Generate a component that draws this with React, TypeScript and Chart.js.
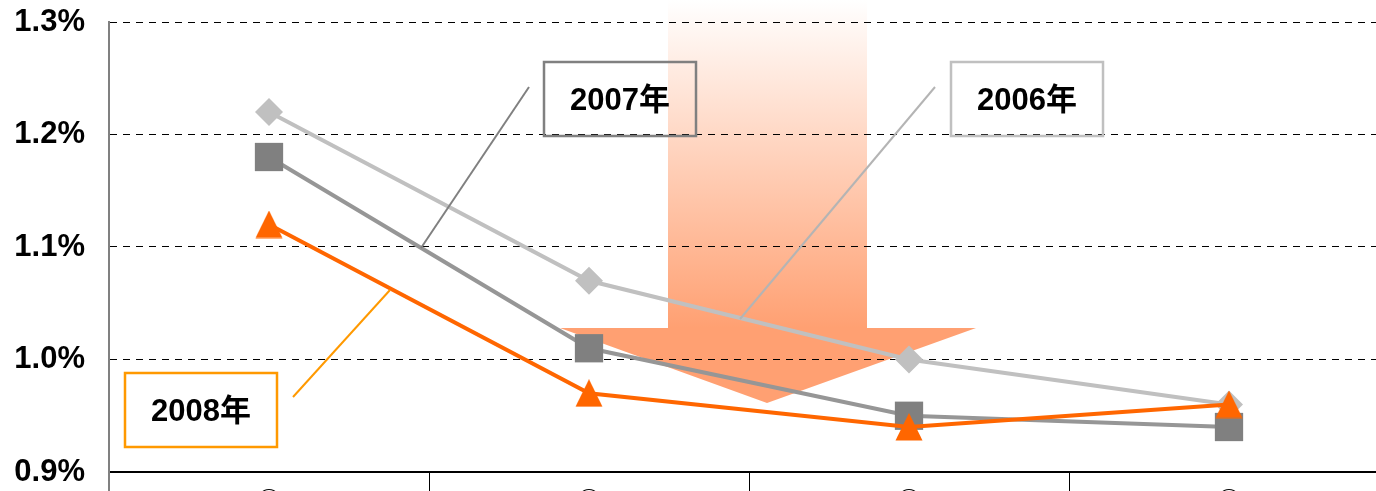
import React, { useEffect, useRef } from "react";
import { Chart, registerables } from "chart.js";

Chart.register(...registerables);

// ---- data ----
const categories = ["①", "②", "③", "④"];
const values2006 = [1.22, 1.07, 1.0, 0.96];
const values2007 = [1.18, 1.01, 0.95, 0.94];
const values2008 = [1.12, 0.97, 0.94, 0.96];
const yTicks = [0.9, 1.0, 1.1, 1.2, 1.3];

// ---- decoration (pixel geometry of callouts / arrow) ----
const CALLOUTS = [
  { text: "2007年", color: "#808080", box: [544, 62, 152, 74], line: [529, 87, 421, 248], lineColor: "#808080" },
  { text: "2006年", color: "#c0c0c0", box: [951, 62, 152, 74], line: [935, 87, 740, 319], lineColor: "#b4b4b4" },
  { text: "2008年", color: "#ff9900", box: [125, 373, 152, 74], line: [293, 397, 390, 290], lineColor: "#ff9900" },
];
const ARROW = { shaftL: 668, shaftR: 867, shaftBottom: 328, headL: 560, headR: 976, tipX: 767, tipY: 403 };

const W = 1409;
const H = 530;
const TOP_PAD = 22;
const BOTTOM = 472;
const LEFT = 109;

function triangleImage(color: string) {
  const c = document.createElement("canvas");
  c.width = 28;
  c.height = 28;
  const g = c.getContext("2d")!;
  g.fillStyle = color;
  g.beginPath();
  g.moveTo(14, 0);
  g.lineTo(27.5, 27.5);
  g.lineTo(0.5, 27.5);
  g.closePath();
  g.fill();
  return c;
}

const decorPlugin = {
  id: "decor",
  beforeDraw(chart: any) {
    const ctx = chart.ctx as CanvasRenderingContext2D;
    const a = ARROW;
    ctx.save();
    const g = ctx.createLinearGradient(0, 0, 0, a.shaftBottom);
    g.addColorStop(0, "#ffffff");
    g.addColorStop(1, "#ffa072");
    ctx.fillStyle = g;
    ctx.beginPath();
    ctx.moveTo(a.shaftL, 0);
    ctx.lineTo(a.shaftR, 0);
    ctx.lineTo(a.shaftR, a.shaftBottom);
    ctx.lineTo(a.headR, a.shaftBottom);
    ctx.lineTo(a.tipX, a.tipY);
    ctx.lineTo(a.headL, a.shaftBottom);
    ctx.lineTo(a.shaftL, a.shaftBottom);
    ctx.closePath();
    ctx.fill();
    ctx.restore();
  },
  afterDatasetsDraw(chart: any) {
    const ctx = chart.ctx as CanvasRenderingContext2D;
    ctx.save();
    for (const c of CALLOUTS) {
      ctx.strokeStyle = c.lineColor;
      ctx.lineWidth = 2;
      ctx.beginPath();
      ctx.moveTo(c.line[0], c.line[1]);
      ctx.lineTo(c.line[2], c.line[3]);
      ctx.stroke();
      ctx.strokeStyle = c.color;
      ctx.lineWidth = 2.5;
      ctx.strokeRect(c.box[0], c.box[1], c.box[2], c.box[3]);
      ctx.fillStyle = "#000";
      ctx.font = "bold 31px 'Liberation Sans', 'Noto Sans CJK JP', sans-serif";
      ctx.textAlign = "center";
      ctx.textBaseline = "middle";
      ctx.fillText(c.text, c.box[0] + c.box[2] / 2, c.box[1] + c.box[3] / 2 + 2);
    }
    ctx.restore();
  },
};

export default function App() {
  const ref = useRef<HTMLCanvasElement>(null);
  useEffect(() => {
    const chart = new Chart(ref.current!, {
      type: "line",
      data: {
        labels: categories,
        datasets: [
          {
            label: "2008年",
            data: values2008,
            borderColor: "#ff6600",
            borderWidth: 4,
            pointStyle: triangleImage("#ff6600") as any,
            pointRadius: 14,
            pointBorderWidth: 0,
            backgroundColor: "#ff6600",
            tension: 0,
          },
          {
            label: "2007年",
            data: values2007,
            borderColor: "#969696",
            borderWidth: 4,
            pointStyle: "rect",
            pointRadius: 20,
            pointBackgroundColor: "#808080",
            pointBorderWidth: 0,
            tension: 0,
          },
          {
            label: "2006年",
            data: values2006,
            borderColor: "#c0c0c0",
            borderWidth: 4,
            pointStyle: "rectRot",
            pointRadius: 14,
            pointBackgroundColor: "#c0c0c0",
            pointBorderWidth: 0,
            tension: 0,
          },
        ],
      },
      options: {
        responsive: false,
        animation: false,
        layout: { padding: { top: TOP_PAD, left: 0, right: 0, bottom: 0 } },
        plugins: { legend: { display: false }, tooltip: { enabled: false } },
        scales: {
          x: {
            offset: true,
            afterFit: (s: any) => {
              s.height = H - BOTTOM;
              s.paddingLeft = 0;
              s.paddingRight = 0;
            },
            grid: {
              offset: true,
              drawOnChartArea: false,
              drawTicks: true,
              tickLength: 22,
              color: (c: any) => (c.index === 0 ? "#808080" : "#000000"),
              lineWidth: (c: any) => (c.index === 0 ? 2 : 1),
            },
            border: { display: true, color: "#000000", width: 2 },
            ticks: {
              padding: -7,
              color: "#000",
              font: { size: 26, weight: "bold", family: "'Noto Sans CJK JP', sans-serif" },
            },
          },
          y: {
            min: 0.9,
            max: 1.3,
            afterFit: (s: any) => {
              s.width = LEFT;
              s.paddingTop = 0;
              s.paddingBottom = 0;
            },
            afterBuildTicks: (s: any) => {
              s.ticks = yTicks.map((v) => ({ value: v }));
            },
            grid: { color: "#000000", lineWidth: 1, drawTicks: false },
            border: { display: true, color: "#808080", width: 2, dash: [7, 6] },
            ticks: {
              padding: 24,
              color: "#000",
              font: { size: 31, weight: "bold", family: "'Liberation Sans', Arial, sans-serif" },
              callback: (v: any) => Number(v).toFixed(1) + "%",
            },
          },
        },
      },
      plugins: [decorPlugin],
    });
    return () => chart.destroy();
  }, []);
  return (
    <div style={{ position: "fixed", left: 0, top: 0, width: 1376, height: 491, overflow: "hidden", background: "#fff" }}>
      <canvas ref={ref} width={W} height={H} style={{ display: "block" }} />
    </div>
  );
}
